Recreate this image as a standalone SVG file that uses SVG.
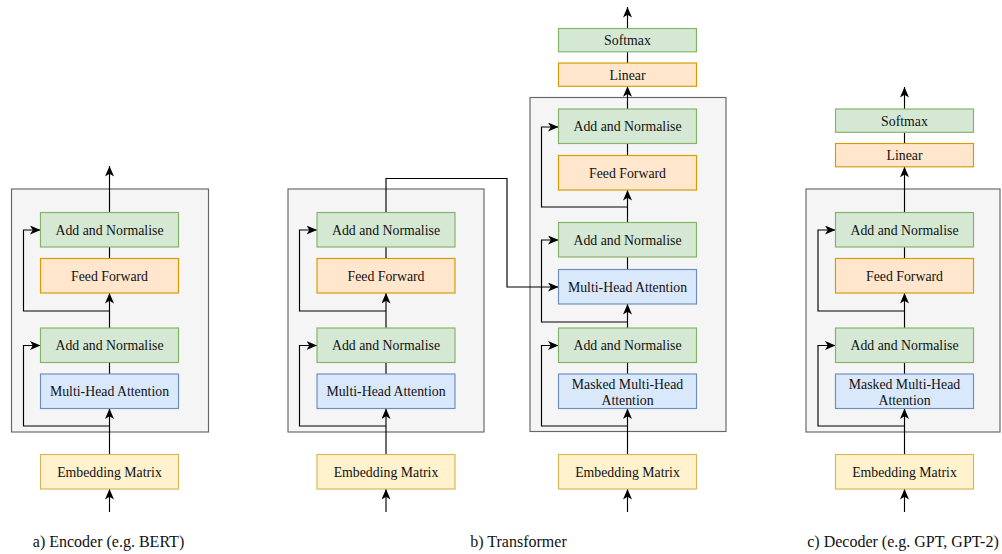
<svg xmlns="http://www.w3.org/2000/svg" width="1002" height="554" viewBox="0 0 1002 554">
  <style>
    .frame { fill: #f5f5f5; stroke: #666666; stroke-width: 1.15; }
    .green { fill: #d5e8d4; stroke: #82b366; stroke-width: 1.15; }
    .orange { fill: #ffe6cc; stroke: #d79b00; stroke-width: 1.15; }
    .blue { fill: #dae8fc; stroke: #6c8ebf; stroke-width: 1.15; }
    .yellow { fill: #fff2cc; stroke: #d6b656; stroke-width: 1.15; }
    .lbl { font-size: 13.8px; fill: #111111; text-anchor: middle; }
    .cap { font-size: 16px; fill: #111111; text-anchor: middle; }
    .wire { fill: none; stroke: #000000; stroke-width: 1.15; }
    .arr { marker-end: url(#head); }
  </style>
  <defs>
    <marker id="head" markerUnits="userSpaceOnUse" markerWidth="12" markerHeight="10" refX="10.5" refY="4.5" orient="auto">
      <path d="M0,0 L10.5,4.5 L0,9 L2.8,4.5 Z" fill="#000000"/>
    </marker>
  </defs>

  <!-- panel frames -->
  <g id="frames">
    <rect id="encoder-frame" class="frame" x="11.5" y="189" width="197" height="243"/>
    <rect id="transformer-encoder-frame" class="frame" x="288" y="189" width="196" height="243"/>
    <rect id="transformer-decoder-frame" class="frame" x="530" y="97.5" width="196" height="334"/>
    <rect id="decoder-frame" class="frame" x="806" y="189" width="194" height="243"/>
  </g>

  <!-- connectors -->
  <g id="connectors">
    <!-- a) encoder -->
    <line class="wire arr" x1="109.5" y1="512" x2="109.5" y2="489"/>
    <line class="wire arr" x1="109.5" y1="454.5" x2="109.5" y2="408.5"/>
    <line class="wire" x1="109.5" y1="374" x2="109.5" y2="362.5"/>
    <line class="wire arr" x1="109.5" y1="328" x2="109.5" y2="293"/>
    <line class="wire" x1="109.5" y1="258.5" x2="109.5" y2="247"/>
    <line class="wire arr" x1="109.5" y1="212.5" x2="109.5" y2="166"/>
    <polyline class="wire arr" points="109.5,311 23.5,311 23.5,230 40.5,230"/>
    <polyline class="wire arr" points="109.5,426 23.5,426 23.5,345.5 40.5,345.5"/>

    <!-- b) transformer, encoder stack -->
    <line class="wire arr" x1="386" y1="512" x2="386" y2="489"/>
    <line class="wire arr" x1="386" y1="454.5" x2="386" y2="408.5"/>
    <line class="wire" x1="386" y1="374" x2="386" y2="362.5"/>
    <line class="wire arr" x1="386" y1="328" x2="386" y2="293"/>
    <line class="wire" x1="386" y1="258.5" x2="386" y2="247"/>
    <polyline class="wire arr" points="386,311 299.5,311 299.5,230 317,230"/>
    <polyline class="wire arr" points="386,426 299.5,426 299.5,345.5 317,345.5"/>
    <polyline class="wire arr" points="386,212.5 386,178.5 507,178.5 507,287 558.5,287"/>

    <!-- b) transformer, decoder stack -->
    <line class="wire arr" x1="627.5" y1="512" x2="627.5" y2="489"/>
    <line class="wire arr" x1="627.5" y1="454.5" x2="627.5" y2="408.5"/>
    <line class="wire" x1="627.5" y1="374" x2="627.5" y2="362.5"/>
    <line class="wire arr" x1="627.5" y1="328" x2="627.5" y2="304"/>
    <line class="wire" x1="627.5" y1="269.5" x2="627.5" y2="257"/>
    <line class="wire arr" x1="627.5" y1="222.5" x2="627.5" y2="190"/>
    <line class="wire" x1="627.5" y1="155.5" x2="627.5" y2="143.5"/>
    <line class="wire arr" x1="627.5" y1="109" x2="627.5" y2="86.3"/>
    <line class="wire" x1="627.5" y1="63" x2="627.5" y2="51.8"/>
    <line class="wire arr" x1="627.5" y1="28.5" x2="627.5" y2="7"/>
    <polyline class="wire arr" points="627.5,207 541.5,207 541.5,127 558.5,127"/>
    <polyline class="wire arr" points="627.5,322 541.5,322 541.5,240 558.5,240"/>
    <polyline class="wire arr" points="627.5,426 541.5,426 541.5,345.5 558.5,345.5"/>

    <!-- c) decoder -->
    <line class="wire arr" x1="904.5" y1="512" x2="904.5" y2="489"/>
    <line class="wire arr" x1="904.5" y1="454.5" x2="904.5" y2="408.5"/>
    <line class="wire" x1="904.5" y1="374" x2="904.5" y2="362.5"/>
    <line class="wire arr" x1="904.5" y1="328" x2="904.5" y2="293"/>
    <line class="wire" x1="904.5" y1="258.5" x2="904.5" y2="247"/>
    <line class="wire arr" x1="904.5" y1="212.5" x2="904.5" y2="166.8"/>
    <line class="wire" x1="904.5" y1="143.5" x2="904.5" y2="132.3"/>
    <line class="wire arr" x1="904.5" y1="109" x2="904.5" y2="87"/>
    <polyline class="wire arr" points="904.5,311 818,311 818,230 835.5,230"/>
    <polyline class="wire arr" points="904.5,426 818,426 818,345.5 835.5,345.5"/>
  </g>

  <g font-family="'Liberation Serif', 'Times New Roman', 'DejaVu Serif', serif">
  <!-- a) encoder nodes -->
  <g id="a-add-norm-2"><rect class="green" x="40.5" y="212.5" width="138" height="34.5"/><text class="lbl" x="109.5" y="234.8">Add and Normalise</text></g>
  <g id="a-feed-forward"><rect class="orange" x="40.5" y="258.5" width="138" height="34.5"/><text class="lbl" x="109.5" y="280.8">Feed Forward</text></g>
  <g id="a-add-norm-1"><rect class="green" x="40.5" y="328" width="138" height="34.5"/><text class="lbl" x="109.5" y="350.3">Add and Normalise</text></g>
  <g id="a-attention"><rect class="blue" x="40.5" y="374" width="138" height="34.5"/><text class="lbl" x="109.5" y="396.3">Multi-Head Attention</text></g>
  <g id="a-embedding"><rect class="yellow" x="40.5" y="454.5" width="138" height="34.5"/><text class="lbl" x="109.5" y="476.8">Embedding Matrix</text></g>

  <!-- b) transformer, encoder stack nodes -->
  <g id="b-enc-add-norm-2"><rect class="green" x="317" y="212.5" width="138" height="34.5"/><text class="lbl" x="386" y="234.8">Add and Normalise</text></g>
  <g id="b-enc-feed-forward"><rect class="orange" x="317" y="258.5" width="138" height="34.5"/><text class="lbl" x="386" y="280.8">Feed Forward</text></g>
  <g id="b-enc-add-norm-1"><rect class="green" x="317" y="328" width="138" height="34.5"/><text class="lbl" x="386" y="350.3">Add and Normalise</text></g>
  <g id="b-enc-attention"><rect class="blue" x="317" y="374" width="138" height="34.5"/><text class="lbl" x="386" y="396.3">Multi-Head Attention</text></g>
  <g id="b-enc-embedding"><rect class="yellow" x="317" y="454.5" width="138" height="34.5"/><text class="lbl" x="386" y="476.8">Embedding Matrix</text></g>

  <!-- b) transformer, decoder stack nodes -->
  <g id="b-dec-softmax"><rect class="green" x="558.5" y="28.5" width="138" height="23.3"/><text class="lbl" x="627.5" y="45">Softmax</text></g>
  <g id="b-dec-linear"><rect class="orange" x="558.5" y="63" width="138" height="23.3"/><text class="lbl" x="627.5" y="79.5">Linear</text></g>
  <g id="b-dec-add-norm-3"><rect class="green" x="558.5" y="109" width="138" height="34.5"/><text class="lbl" x="627.5" y="131.3">Add and Normalise</text></g>
  <g id="b-dec-feed-forward"><rect class="orange" x="558.5" y="155.5" width="138" height="34.5"/><text class="lbl" x="627.5" y="177.8">Feed Forward</text></g>
  <g id="b-dec-add-norm-2"><rect class="green" x="558.5" y="222.5" width="138" height="34.5"/><text class="lbl" x="627.5" y="244.8">Add and Normalise</text></g>
  <g id="b-dec-cross-attention"><rect class="blue" x="558.5" y="269.5" width="138" height="34.5"/><text class="lbl" x="627.5" y="291.8">Multi-Head Attention</text></g>
  <g id="b-dec-add-norm-1"><rect class="green" x="558.5" y="328" width="138" height="34.5"/><text class="lbl" x="627.5" y="350.3">Add and Normalise</text></g>
  <g id="b-dec-masked-attention"><rect class="blue" x="558.5" y="374" width="138" height="34.5"/><text class="lbl" x="627.5" y="388.7">Masked Multi-Head</text><text class="lbl" x="627.5" y="404.5">Attention</text></g>
  <g id="b-dec-embedding"><rect class="yellow" x="558.5" y="454.5" width="138" height="34.5"/><text class="lbl" x="627.5" y="476.8">Embedding Matrix</text></g>

  <!-- c) decoder nodes -->
  <g id="c-softmax"><rect class="green" x="835.5" y="109" width="138" height="23.3"/><text class="lbl" x="904.5" y="125.5">Softmax</text></g>
  <g id="c-linear"><rect class="orange" x="835.5" y="143.5" width="138" height="23.3"/><text class="lbl" x="904.5" y="160">Linear</text></g>
  <g id="c-add-norm-2"><rect class="green" x="835.5" y="212.5" width="138" height="34.5"/><text class="lbl" x="904.5" y="234.8">Add and Normalise</text></g>
  <g id="c-feed-forward"><rect class="orange" x="835.5" y="258.5" width="138" height="34.5"/><text class="lbl" x="904.5" y="280.8">Feed Forward</text></g>
  <g id="c-add-norm-1"><rect class="green" x="835.5" y="328" width="138" height="34.5"/><text class="lbl" x="904.5" y="350.3">Add and Normalise</text></g>
  <g id="c-masked-attention"><rect class="blue" x="835.5" y="374" width="138" height="34.5"/><text class="lbl" x="904.5" y="388.7">Masked Multi-Head</text><text class="lbl" x="904.5" y="404.5">Attention</text></g>
  <g id="c-embedding"><rect class="yellow" x="835.5" y="454.5" width="138" height="34.5"/><text class="lbl" x="904.5" y="476.8">Embedding Matrix</text></g>

  <!-- captions -->
  <g id="captions">
    <text class="cap" x="108.5" y="547">a) Encoder (e.g. BERT)</text>
    <text class="cap" x="518.5" y="547">b) Transformer</text>
    <text class="cap" x="903" y="547">c) Decoder (e.g. GPT, GPT-2)</text>
  </g>
  </g>
</svg>
